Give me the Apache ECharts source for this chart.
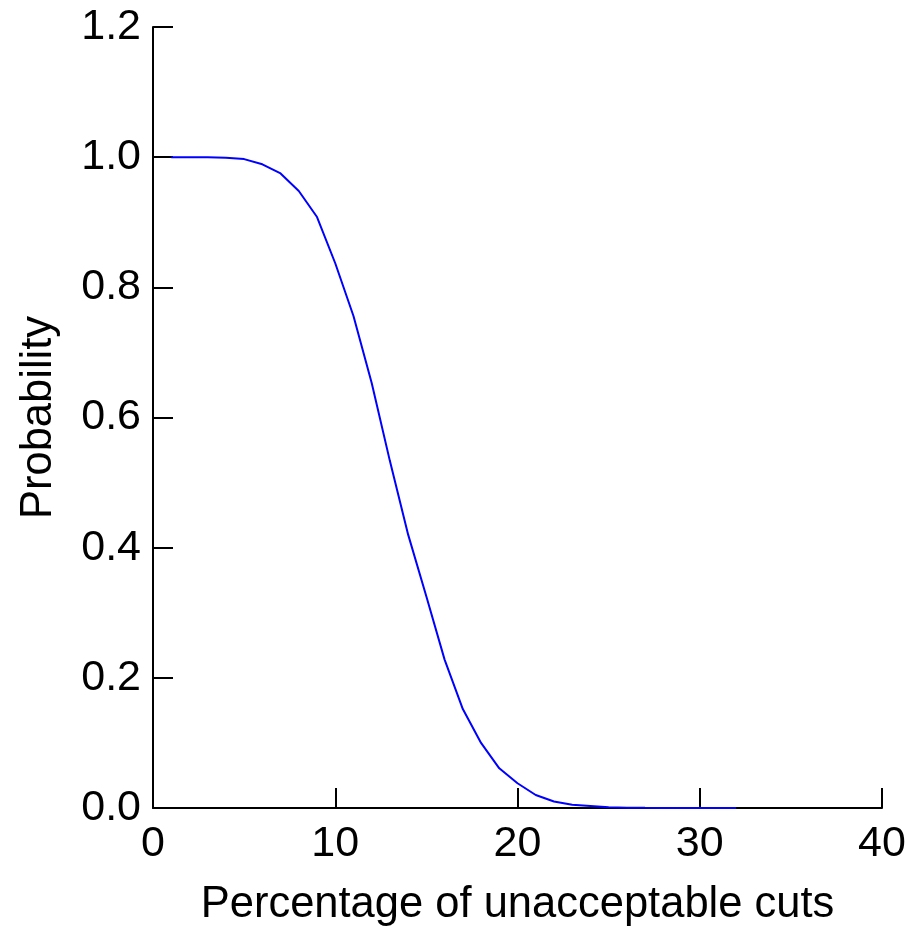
<!DOCTYPE html>
<html>
<head>
<meta charset="utf-8">
<script src="https://cdn.jsdelivr.net/npm/echarts@6/dist/echarts.min.js"></script>
<style>
  html, body { margin: 0; padding: 0; background: #fff; }
  #main { width: 910px; height: 933px; }
</style>
</head>
<body>
<div id="main"></div>
<script>
var percentCuts = [1, 2, 3, 4, 5, 6, 7, 8, 9, 10, 11, 12, 13, 14, 15, 16,
    17, 18, 19, 20, 21, 22, 23, 24, 25, 26, 27, 28, 29, 30, 31, 32];
var probability = [1.0, 1.0, 1.0, 0.999, 0.997, 0.989, 0.975, 0.948, 0.908, 0.837, 0.756, 0.653,
    0.533, 0.42, 0.325, 0.228, 0.152, 0.1, 0.061, 0.038, 0.02, 0.01, 0.005, 0.003,
    0.001, 0.0005, 0.0002, 0.0001, 0, 0, 0, 0];
var xTicks = [0, 10, 20, 30, 40];
var yTicks = [0, 0.2, 0.4, 0.6, 0.8, 1.0, 1.2];

var chartDom = document.getElementById('main');
var myChart = echarts.init(chartDom);
var option;

var font = 'Liberation Sans, Arial, sans-serif';

option = {
    backgroundColor: '#fff',
    animation: false,
    grid: {
        left: 153,
        right: 28,
        top: 27,
        bottom: 125
    },
    xAxis: {
        type: 'value',
        min: xTicks[0],
        max: xTicks[xTicks.length - 1],
        interval: 10,
        name: 'Percentage of unacceptable cuts',
        nameLocation: 'middle',
        nameGap: 75,
        nameTextStyle: { color: '#000', fontSize: 43.5, fontFamily: font },
        axisLine: { lineStyle: { color: '#000', width: 2 } },
        axisTick: { inside: true, length: 20, lineStyle: { color: '#000', width: 2 } },
        axisLabel: { color: '#000', fontSize: 43, fontFamily: font, margin: 15 },
        splitLine: { show: false }
    },
    yAxis: {
        type: 'value',
        min: yTicks[0],
        max: yTicks[yTicks.length - 1],
        interval: 0.2,
        name: 'Probability',
        nameLocation: 'middle',
        nameGap: 92,
        nameTextStyle: { color: '#000', fontSize: 43.5, fontFamily: font },
        axisLine: { show: true, lineStyle: { color: '#000', width: 2 } },
        axisTick: { show: true, inside: true, length: 20, lineStyle: { color: '#000', width: 2 } },
        axisLabel: {
            color: '#000', fontSize: 43, fontFamily: font, margin: 12,
            formatter: function (v) { return v.toFixed(1); }
        },
        splitLine: { show: false }
    },
    series: [
        {
            type: 'line',
            data: percentCuts.map(function (x, i) { return [x, probability[i]]; }),
            symbol: 'none',
            smooth: false,
            lineStyle: { color: '#0000ff', width: 2 }
        }
    ]
};

option && myChart.setOption(option);
</script>
</body>
</html>
